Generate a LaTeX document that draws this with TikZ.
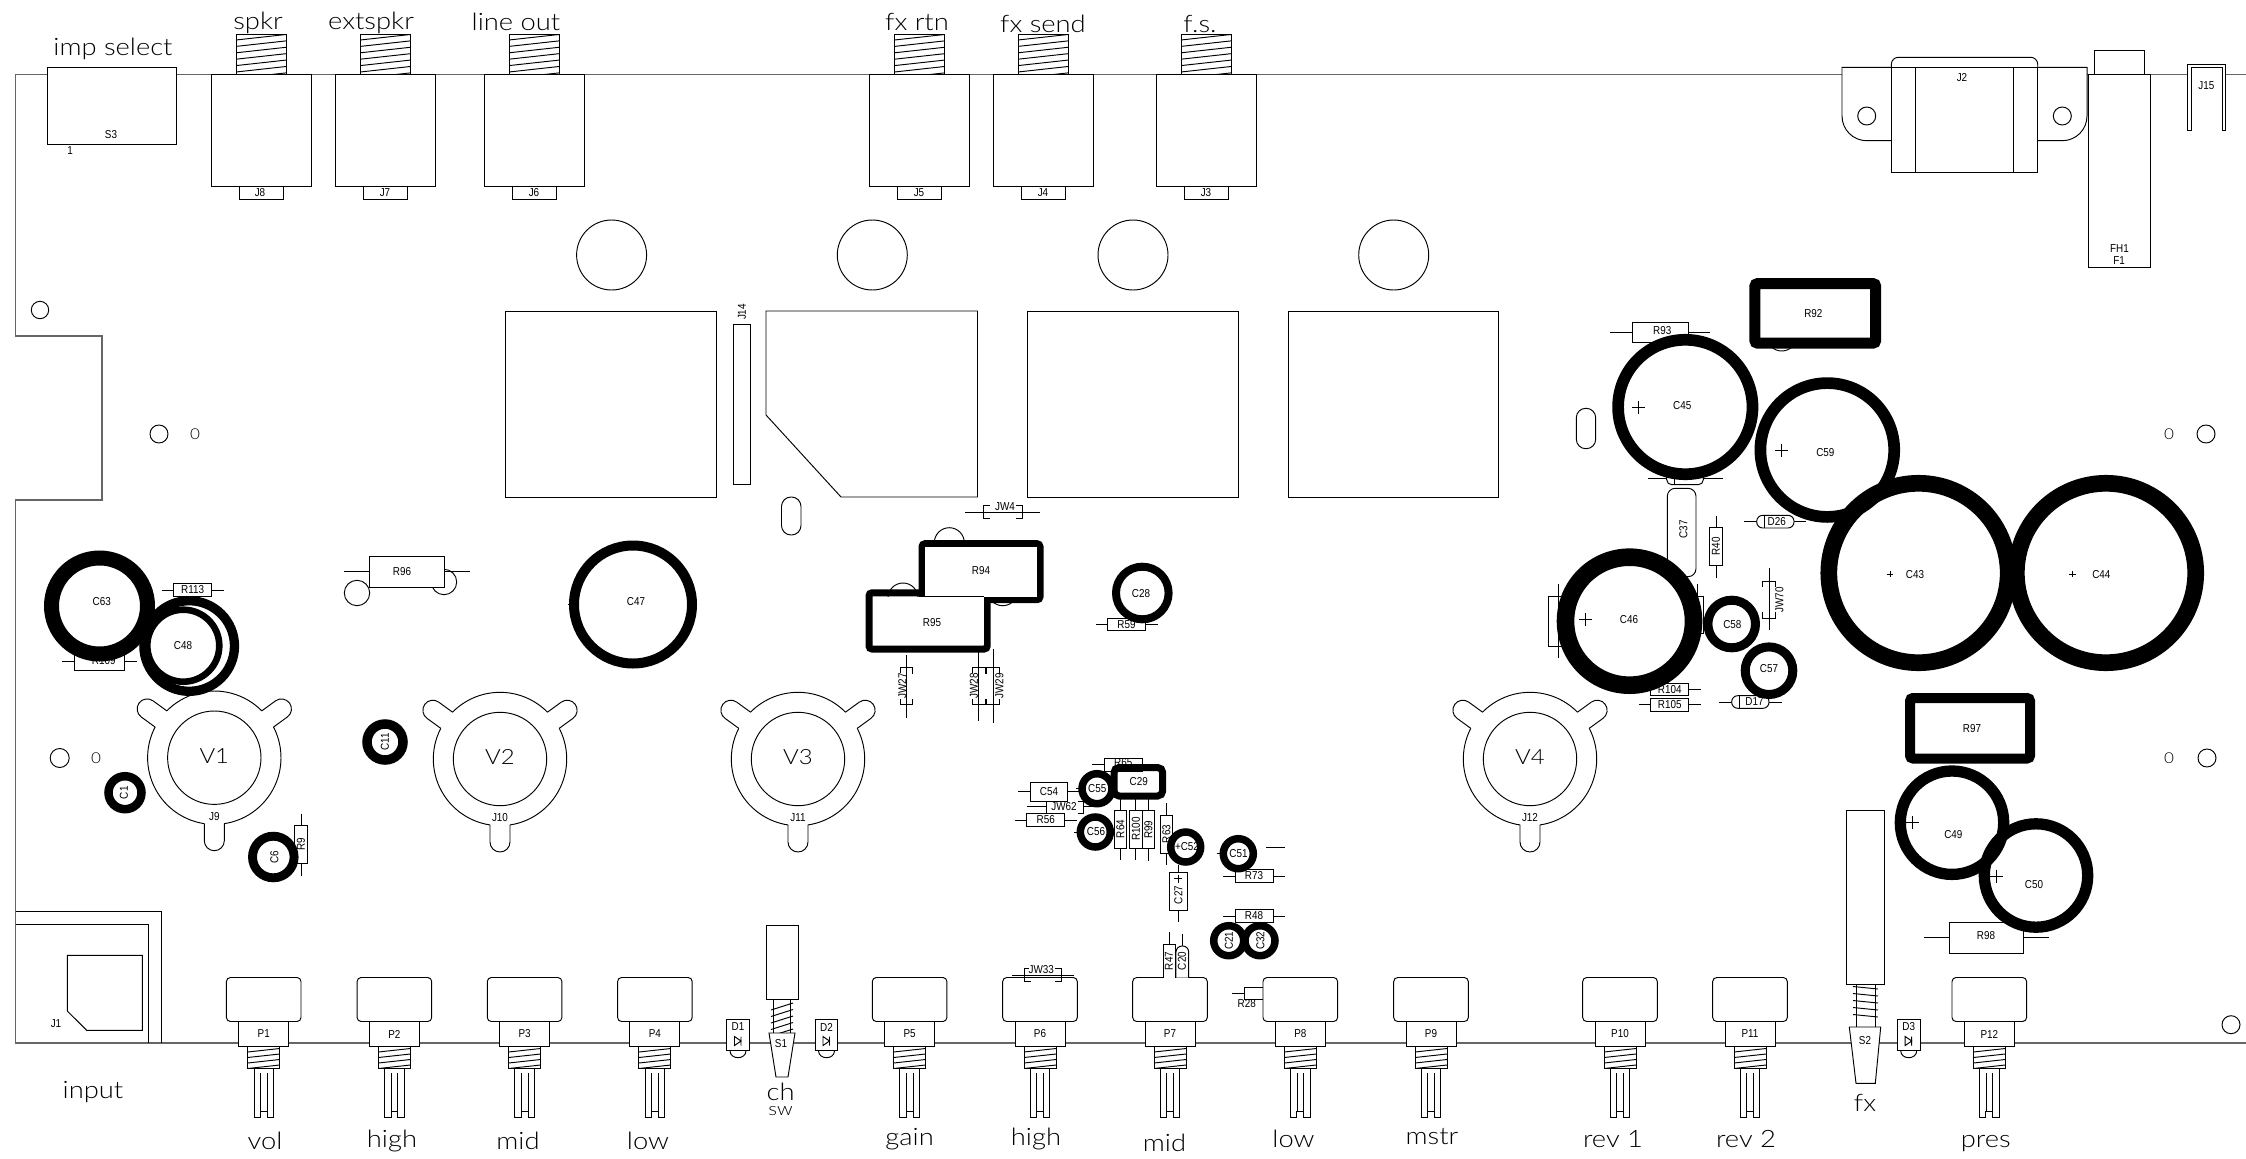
\documentclass[tikz,border=0pt]{standalone}
\usepackage{fontspec}
\newfontfamily\labf[FakeStretch=0.86]{Liberation Sans}
\newfontfamily\bigf[FakeStretch=1.14]{Lato Light}
\newcount\nodeno
\tikzset{
 comp/.style={line width=0.95pt,black},
 board/.style={line width=1.3pt,black!60},
 lbl/.style={inner sep=0pt,font=\labf\fontsize{11.5}{12}\selectfont},
 biglbl/.style={inner sep=0pt,font=\bigf\fontsize{24}{26}\selectfont},
}
\newcommand\labc[4][]{\global\advance\nodeno by 1\node[lbl,#1] (n\the\nodeno) at (#2,#3) {#4};}
\newcommand\bigc[4][]{\global\advance\nodeno by 1\node[biglbl,#1] (n\the\nodeno) at (#2,#3) {#4};}
\newcommand\RH[3]{\draw[comp] ({#1-31},#2) -- ({#1+31},#2);\draw[comp,fill=white] ({#1-19},{#2-6.3}) rectangle ({#1+19},{#2+6.3});\labc{#1}{#2}{#3}}
\newcommand\RV[3]{\draw[comp] (#1,{#2-31}) -- (#1,{#2+31});\draw[comp,fill=white] ({#1-6.3},{#2-19}) rectangle ({#1+6.3},{#2+19});\labc[rotate=90]{#1}{#2}{#3}}
\newcommand\ringc[4]{\draw[line width=#4pt] (#1,#2) circle[radius=#3pt];}
\newcommand\plusc[3]{\draw[comp] ({#1-#3},#2) -- ({#1+#3},#2) (#1,{#2-#3}) -- (#1,{#2+#3});}
\newcommand\jack[1]{%
 \begin{scope}
 \clip (#1+25,34) rectangle (#1+75,74.5);
 \foreach \k in {0,...,6}{\draw[comp] (#1+25,{40+6.4*\k}) -- (#1+75,{34.5+6.4*\k});}
 \end{scope}
 \draw[comp,fill=white] (#1,74.5) rectangle (#1+100,186.7);
 \draw[comp] (#1+25,74.5) -- (#1+25,34.5) -- (#1+75,34.5) -- (#1+75,74.5);
 \draw[comp] (#1+28,186.7) -- (#1+28,199) -- (#1+72,199) -- (#1+72,186.7);}
\newcommand\pot[2]{%
 \draw[comp,rounded corners=4pt] ({#1-37.3},977.5) rectangle ({#1+37.3},1021.5);
 \draw[comp,fill=white] ({#1-25},1021.5) rectangle ({#1+25},1046.3);
 \begin{scope}
 \clip ({#1-16},1046.3) rectangle ({#1+16},1068.7);
 \foreach \k in {0,...,3}{\draw[comp] ({#1-16},{1052+5.5*\k}) -- ({#1+16},{1048.5+5.5*\k});}
 \end{scope}
 \draw[comp] ({#1-16},1046.3) rectangle ({#1+16},1068.7);
 \draw[comp] ({#1-9.7},1068.7) -- ({#1-9.7},1117.7) -- ({#1-3.4},1117.7) -- ({#1-3.4},1111) -- ({#1+3.4},1111) -- ({#1+3.4},1117.7) -- ({#1+9.7},1117.7) -- ({#1+9.7},1068.7);
 \draw[comp,line width=0.8pt] ({#1-3.4},1073) -- ({#1-3.4},1111) ({#1+3.4},1073) -- ({#1+3.4},1111);
 \labc{#1}{1034}{#2}}
\newcommand\diodeV[2]{%
 \draw[comp] ({#1-8},1050.7) .. controls ({#1-8},1060) and ({#1+8},1060) .. ({#1+8},1050.7);
 \draw[comp,fill=white] ({#1-11.3},1019.3) rectangle ({#1+11.3},1050.7);
 \draw[comp] ({#1-3.5},1036.5) -- ({#1-3.5},1045.5) -- ({#1+3},1041) -- cycle ({#1+3},1036.5) -- ({#1+3},1045.5);
 \labc{#1}{1027}{#2}}
\newcommand\socket[4]{%
 \begin{scope}[shift={(#1,#2)},y=1pt]
 \draw[comp] (0,0) circle[radius=46.7pt];
 \foreach \a in {-90,36,144}{
  \draw[comp,rotate=\a] (65.9,10) -- (83,10) arc[start angle=90,end angle=-90,radius=10pt] -- (65.9,-10);
 }
 \draw[comp] (44.6:66.7pt) arc[start angle=44.6,end angle=135.4,radius=66.7pt];
 \draw[comp] (152.6:66.7pt) arc[start angle=152.6,end angle=261.4,radius=66.7pt];
 \draw[comp] (278.6:66.7pt) arc[start angle=278.6,end angle=387.4,radius=66.7pt];
 \end{scope}
 \labc[font=\bigf\fontsize{21}{22}\selectfont]{#1}{#2-2}{#3}
 \labc{#1}{#2+59}{#4}}
\newcommand\jwV[3]{%
 \draw[comp] (#1-6.3,673.5) -- (#1-6.3,667.3) -- (#1+6.3,667.3) -- (#1+6.3,673.5);
 \draw[comp] (#1-6.3,698.5) -- (#1-6.3,704.7) -- (#1+6.3,704.7) -- (#1+6.3,698.5);
 \labc[rotate=90,fill=white]{#2}{686}{#3}}
\begin{document}
\begin{tikzpicture}[x=1pt,y=-1pt]
\useasboundingbox (0,0) rectangle (2246,1159);
\fill[white] (0,0) rectangle (2246,1159);
% board edge
\draw[board] (2246,74.5) -- (15.7,74.5) -- (15.7,336) -- (102,336) -- (102,500) -- (15.7,500) -- (15.7,1043) -- (2246,1043);
% imp select
\draw[comp,fill=white] (47.5,67) rectangle (176,144);
\labc{111}{135}{S3}\labc{70}{151}{1}
\jack{211}\labc{260}{193}{J8}
\jack{335.3}\labc{385}{193}{J7}
\jack{484}\labc{534}{193}{J6}
\jack{869.5}\labc{919}{193}{J5}
\jack{993}\labc{1043}{193}{J4}
\jack{1156}\labc{1206}{193}{J3}
\bigc{113}{49}{imp select}
\bigc{258}{23}{spkr}
\bigc{371}{23}{extspkr}
\bigc{516}{22}{line out}
\bigc{917}{22}{fx rtn}
\bigc{1043}{24}{fx send}
\bigc{1200}{24}{f.s.}
% top circles and relays
\foreach \x in {611.6,872.3,1133,1393.7}{\draw[comp] (\x,255) circle[radius=35pt];}
\draw[comp] (505.6,311) rectangle (716,497);
\draw[comp] (766,311) -- (977.5,311) -- (977.5,497) -- (841,497) -- (766,415) -- cycle;
\draw[comp] (1027.3,311) rectangle (1238,497);
\draw[comp] (1288,311) rectangle (1498,497);
\draw[comp] (733.4,324) rectangle (750.6,484);
\labc[rotate=90]{742}{312}{J14}
\draw[comp,rounded corners=9.5pt] (781.5,497) rectangle (801,535);
\draw[comp,rounded corners=9.5pt] (1576.3,408.3) rectangle (1595.7,448.7);
% holes
\draw[comp] (40,310) circle[radius=8.7pt];
\draw[comp] (159,434) circle[radius=9pt];
\labc[font=\bigf\fontsize{15}{16}\selectfont]{195}{434}{0}
\draw[comp] (59.7,758) circle[radius=9.5pt];
\labc[font=\bigf\fontsize{15}{16}\selectfont]{96}{758}{0}
\labc[font=\bigf\fontsize{15}{16}\selectfont]{2169}{434}{0}
\draw[comp] (2206,434) circle[radius=9pt];
\labc[font=\bigf\fontsize{15}{16}\selectfont]{2169}{758}{0}
\draw[comp] (2207,758) circle[radius=9pt];
\draw[comp] (2231,1024.7) circle[radius=9pt];
% J2
\fill[white] (1842,68) rectangle (2087,100);
\draw[comp] (1891.3,67.3) -- (1842,67.3) -- (1842,116) arc[start angle=180,end angle=270,radius=24.7pt] -- (1891.3,140.7);
\draw[comp] (2037.7,67.3) -- (2087,67.3) -- (2087,116) arc[start angle=0,end angle=-90,radius=24.7pt] -- (2037.7,140.7);
\draw[comp,rounded corners=7pt] (1891.3,67.3) -- (1891.3,57.3) -- (2037.7,57.3) -- (2037.7,67.3);
\draw[comp] (1891.3,67.3) rectangle (2037.7,172.3);
\draw[comp] (1915.7,67.3) -- (1915.7,172.3) (2013.3,67.3) -- (2013.3,172.3);
\draw[comp] (1866.7,116) circle[radius=9pt] (2062.3,116) circle[radius=9pt];
\labc{1962}{78}{J2}
% fuse
\draw[comp,fill=white] (2094.3,50) rectangle (2144.3,74.7);
\draw[comp,fill=white] (2088.3,74.7) rectangle (2150.7,267.3);
\labc{2119.5}{249}{FH1}\labc{2119}{261}{F1}
% J15
\fill[white] (2188,70) rectangle (2225,80);
\draw[comp] (2187.7,130.3) -- (2187.7,64) -- (2225.7,64) -- (2225.7,130.3) -- (2222,130.3) -- (2222,67.3) -- (2191.3,67.3) -- (2191.3,130.3) -- cycle;
\labc{2206.3}{86}{J15}
% J1
\draw[comp] (15.7,911.7) -- (161,911.7) -- (161,1043);
\draw[comp] (15.7,924.3) -- (148.5,924.3) -- (148.5,1043);
\draw[comp] (67.3,955.3) -- (142.3,955.3) -- (142.3,1030.3) -- (86.7,1030.3) -- (67.3,1011) -- cycle;
\labc{56}{1024}{J1}
% pots
\pot{263.7}{P1}\pot{394.4}{P2}\pot{524.6}{P3}\pot{654.9}{P4}
\pot{909.6}{P5}\pot{1040}{P6}\pot{1170}{P7}\pot{1300.3}{P8}
\pot{1431}{P9}\pot{1620}{P10}\pot{1750}{P11}\pot{1989.3}{P12}
\diodeV{738}{D1}\diodeV{826.5}{D2}\diodeV{1908.7}{D3}
% S1
\draw[comp] (766.3,925.3) rectangle (798,999.3);
\draw[comp] (773.5,999.3) -- (773.5,1033) (790.8,999.3) -- (790.8,1033);
\foreach \k in {0,...,4}{\draw[comp] (771,{1010+6.5*\k}) -- (793,{1003+6.5*\k});}
\draw[comp,fill=white] (769,1033) -- (795,1033) -- (788,1077) -- (776,1077) -- cycle;
\labc{781}{1044}{S1}
% S2
\draw[comp] (1846.3,810) rectangle (1884,984);
\draw[comp] (1856,984) -- (1856,1027) (1875,984) -- (1875,1027);
\foreach \k in {0,...,4}{\draw[comp] (1853,{986.5+7*\k}) -- (1878,{989+7*\k});}
\draw[comp,fill=white] (1849.3,1027) -- (1880.7,1027) -- (1875.3,1083.3) -- (1856,1083.3) -- cycle;
\labc{1865}{1040.7}{S2}
% bottom labels
\bigc{93}{1092}{input}
\bigc{265}{1141}{vol}\bigc{392}{1141}{high}\bigc{518}{1141}{mid}\bigc{648}{1141}{low}
\bigc{780.6}{1092}{ch}\bigc[font=\bigf\fontsize{18}{20}\selectfont]{780.6}{1111}{sw}
\bigc{909.6}{1139}{gain}\bigc{1036}{1139}{high}\bigc{1164.5}{1143}{mid}\bigc{1293.5}{1139}{low}
\bigc{1432}{1137}{mstr}\bigc{1613}{1139}{rev 1}\bigc{1746}{1139}{rev 2}
\bigc{1865}{1102.7}{fx}\bigc{1985.7}{1144}{pres}
% sockets
\socket{214.3}{757.7}{V1}{J9}
\socket{500}{759}{V2}{J10}
\socket{798}{759}{V3}{J11}
\socket{1530}{759}{V4}{J12}
% resistors and small parts
\RH{192.7}{590}{R113}
\draw[comp] (62.3,661) -- (136.7,661);
\draw[comp,fill=white] (74.3,652) rectangle (124.3,670.7);
\labc{103.7}{661}{R109}
\RV{301}{844.5}{R9}
% R96
\draw[comp] (357,593) circle[radius=12.7pt] (444,582) circle[radius=12.7pt];
\draw[comp] (344.3,571) -- (470,571);
\draw[comp,fill=white] (369.3,556) rectangle (444,587.3);
\labc{402}{572}{R96}
% R94/R95 holes
\draw[comp] (949.3,542.7) circle[radius=15pt] (903,598) circle[radius=15pt] (1002.7,590.7) circle[radius=15pt];
\draw[comp] (965,512.3) -- (1040,512.3);
\draw[comp] (989.7,505) -- (983.7,505) -- (983.7,518.3) -- (989.7,518.3) (1016,505) -- (1022,505) -- (1022,518.3) -- (1016,518.3);
\labc{1005}{506.7}{JW4}
% JW27..29
\draw[comp] (906.3,655.3) -- (906.3,717.7);\jwV{906.3}{902.3}{JW27}
\draw[comp] (978.3,652) -- (978.3,720.7);\jwV{978.7}{974}{JW28}
\draw[comp] (993.3,649) -- (993.3,723.3);\jwV{993}{999.3}{JW29}
\RH{1126.5}{624.3}{R59}
% central cluster
\draw[comp] (1092.3,764.7) -- (1155,764.7);
\draw[comp,fill=white] (1104.7,758.3) rectangle (1142.3,771);
\labc{1123.3}{763}{R65}
\draw[comp] (1018,791.7) -- (1079,791.7);
\draw[comp,fill=white] (1030.3,782.3) rectangle (1067.7,801.3);
\labc{1049}{792}{C54}
\RH{1045.8}{820}{R56}
\draw[comp] (1027,806.7) -- (1046.3,806.7) (1083.3,806.7) -- (1093,806.7);
\draw[comp] (1046.3,801) -- (1046.3,813) (1078,801) -- (1083.3,801) -- (1083.3,813) -- (1078,813);
\labc{1064}{806.7}{JW62}
\RV{1120.3}{829}{R64}\RV{1135.8}{829}{R100}\RV{1148.5}{829.6}{R99}\RV{1166.3}{834}{R63}
\draw[comp] (1178.3,865) -- (1178.3,922.3);
\draw[comp,fill=white] (1169,872.7) rectangle (1187.7,910);
\labc[rotate=90]{1178.3}{895}{C27}
\plusc{1178.3}{878.5}{4}
\RH{1254}{876}{R73}\RH{1254}{916}{R48}
\draw[comp] (1266,847.3) -- (1285,847.3);
\draw[comp] (1169.5,932) -- (1169.5,944.3) (1182,934) -- (1182,946);
\draw[comp,fill=white] (1163.3,977.5) -- (1163.3,944.3) -- (1175.7,944.3) -- (1175.7,977.5);
\draw[comp,fill=white,rounded corners=6pt] (1176,977.5) -- (1176,946) -- (1188.7,946) -- (1188.7,977.5);
\labc[rotate=90]{1169}{961}{R47}\labc[rotate=90]{1182}{961}{C20}
\draw[comp] (1011.7,975) -- (1074,975);
\draw[comp] (1031,968.3) -- (1024.3,968.3) -- (1024.3,981.7) -- (1031,981.7) (1055,968.3) -- (1061.7,968.3) -- (1061.7,981.7) -- (1055,981.7);
\labc[fill=white]{1041.3}{970}{JW33}
\draw[comp] (1231.7,993.3) -- (1244.3,993.3);
\draw[comp] (1263,987.3) -- (1244.3,987.3) -- (1244.3,999.3) -- (1263,999.3);
\labc{1246.7}{1004}{R28}
\draw[comp] (1075.5,788.7) -- (1083,788.7) (1074,832) -- (1082,832) (1216.7,853.7) -- (1224,853.7);
\labc{1187}{847}{+C52}
% right side parts
\draw[comp] (1610.3,332.3) -- (1710.3,332.3);
\draw[comp,fill=white] (1632.3,322.7) rectangle (1688.7,342);
\labc{1662.3}{331}{R93}
\draw[comp] (1781.7,336) circle[radius=15pt];
\draw[comp] (1647.7,478.3) -- (1722.7,478.3);
\draw[comp,fill=white,rounded corners=5pt] (1666.7,472) rectangle (1703.3,484.7);
\draw[comp] (1674.7,472) -- (1674.7,484.7);
\draw[comp,rounded corners=8pt] (1667.3,488.3) rectangle (1696,576.7);
\labc[rotate=90]{1683.3}{529.3}{C37}
\RV{1716}{546.5}{R40}
\draw[comp] (1744,521.7) -- (1806,521.7);
\draw[comp,fill=white,rounded corners=6pt] (1756.7,515.3) rectangle (1794,528);
\draw[comp] (1764.3,515.3) -- (1764.3,528);
\labc{1776.7}{521.5}{D26}
\draw[comp] (1719.3,702) -- (1781.7,702);
\draw[comp,fill=white,rounded corners=6pt] (1731.7,695.7) rectangle (1769,708.3);
\draw[comp] (1739.3,695.7) -- (1739.3,708.3);
\labc{1754.5}{702}{D17}
\RH{1669.8}{689.3}{R104}\RH{1669.8}{704.7}{R105}
\draw[comp] (1558,584) -- (1558,658.3);
\draw[comp] (1570,596) -- (1548.7,596) -- (1548.7,646.7) -- (1570,646.7);
\draw[comp] (1697.3,584) -- (1697.3,600) (1697,596.7) -- (1703.3,596.7) -- (1703.3,633) -- (1697,633);
\draw[comp] (1769,568.3) -- (1769,630);
\draw[comp] (1762.3,587) -- (1762.3,581) -- (1775.7,581) -- (1775.7,587) (1762.3,612) -- (1762.3,618.3) -- (1775.7,618.3) -- (1775.7,612);
\labc[rotate=90]{1779.3}{600}{JW70}
\draw[comp] (1924,937.3) -- (2048.7,937.3);
\draw[comp,fill=white] (1949,922) rectangle (2023.7,953.3);
\labc{1986}{936}{R98}
\draw[comp] (568,604.5) -- (574,604.5);
% thick rectangles
\draw[line width=7pt,rounded corners=3pt] (922,543.7) rectangle (1040,599.7);
\draw[line width=7pt,rounded corners=3pt] (869,592.8) rectangle (987.2,649);
\fill[white] (925.3,547.3) rectangle (1036.7,596.7);
\fill[white] (872.7,596.7) rectangle (983.7,645.3);
\draw[comp] (925.3,596.7) -- (983.7,596.7);
\labc{981}{571}{R94}\labc{932}{623}{R95}
\draw[line width=11pt,rounded corners=3pt,fill=white] (1754.8,283.5) rectangle (1875.7,343.2);
\labc{1813.3}{313.7}{R92}
\draw[line width=10pt,rounded corners=3pt] (1910,698) rectangle (2030,758.5);
\labc{1972}{729}{R97}
\draw[line width=7pt,rounded corners=5pt] (1114,767.5) rectangle (1162.7,796);
\labc{1138.7}{781.3}{C29}
% thick rings
\ringc{99.5}{606}{48}{15}
\ringc{189.2}{646}{45.3}{9.3}
\ringc{183.3}{645.7}{36}{6.6}
\ringc{125}{792.7}{16.5}{8.5}
\ringc{273.3}{857}{20.8}{8.9}
\ringc{385}{742}{18}{9.5}
\ringc{633}{604.5}{59}{10}
\ringc{1142.3}{593}{26.3}{8}
\ringc{1097}{788.7}{15}{7.5}
\ringc{1095.3}{832}{15}{7.5}
\ringc{1185.7}{847}{15}{7.5}
\ringc{1238.3}{853.7}{15}{7.5}
\ringc{1228.7}{940.7}{15}{7.5}
\ringc{1260}{940.7}{15}{7.5}
\ringc{1685.3}{407}{67.2}{11.7}
\ringc{1827.3}{450}{66.9}{11.7}
\ringc{1629.5}{621.2}{64}{17.6}
\ringc{1731.7}{624}{23.8}{9}
\ringc{1769}{670.7}{23.8}{9}
\ringc{1918.5}{573}{89.7}{16.7}
\ringc{2106}{573}{89.7}{16.7}
\ringc{1952}{822.7}{51.7}{11.3}
\ringc{2036}{875.5}{51.7}{11.3}
% ring labels
\labc{101.7}{601.7}{C63}\labc{183}{646}{C48}
\labc[rotate=90]{124}{792.7}{C1}\labc[rotate=90]{274.3}{857}{C6}\labc[rotate=90]{385}{742}{C11}
\labc{636}{601.6}{C47}\labc{1141}{593.7}{C28}
\labc{1097.3}{788.5}{C55}\labc{1096}{832}{C56}\labc{1238.5}{853.7}{C51}
\labc[rotate=90]{1229}{940.7}{C21}\labc[rotate=90]{1260.5}{940.7}{C32}
\labc{1682.3}{406}{C45}\plusc{1638.7}{407}{6.5}
\labc{1825.3}{452.3}{C59}\plusc{1781.3}{450.7}{6.5}
\labc{1629}{620}{C46}\plusc{1585.3}{619}{6.5}
\labc{1732.3}{625}{C58}\labc{1769}{669}{C57}
\labc{1915}{574.4}{C43}\plusc{1890}{574}{3.3}
\labc{2101.3}{574.4}{C44}\plusc{2072.7}{574}{3.3}
\labc{1953.3}{835}{C49}\plusc{1912}{822.7}{6.5}
\labc{2034}{884.7}{C50}\plusc{1996}{876}{6.5}
\end{tikzpicture}
\end{document}
